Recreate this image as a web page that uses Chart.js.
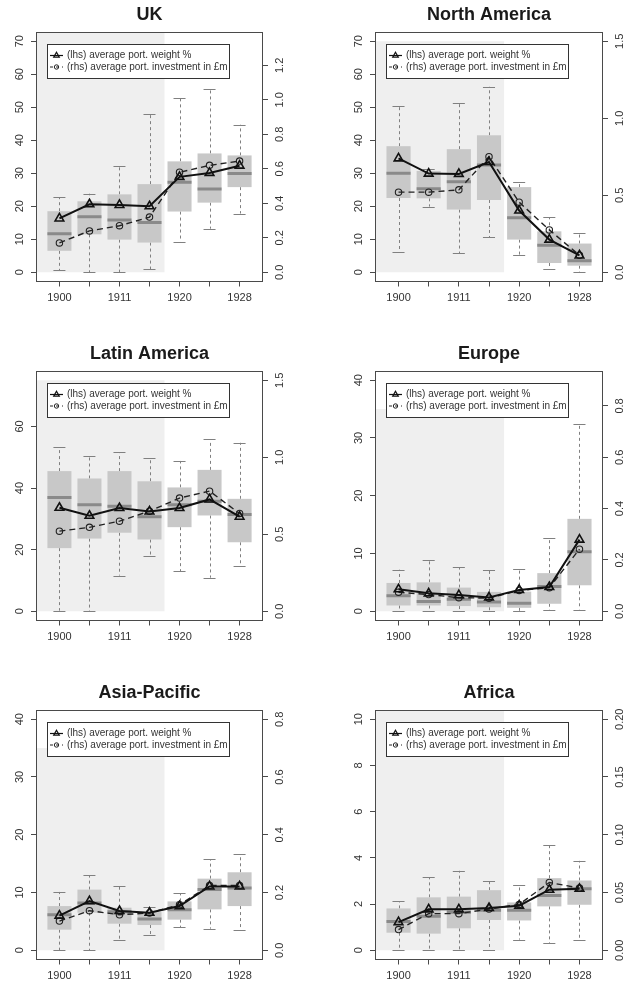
<!DOCTYPE html>
<html>
<head>
<meta charset="utf-8">
<script src="https://cdn.jsdelivr.net/npm/chart.js@4.4.1/dist/chart.umd.min.js"></script>
<style>
  html, body { margin: 0; padding: 0; background: #fff; }
  #page { position: relative; width: 623px; height: 982px; overflow: hidden; background: #fff; }
  #page canvas { position: absolute; display: block; }
</style>
</head>
<body>
<div id="page">
  <canvas id="uk" width="311" height="312" style="left:0;top:0"></canvas>
  <canvas id="na" width="312" height="312" style="left:311px;top:0"></canvas>
  <canvas id="latam" width="311" height="312" style="left:0;top:339px"></canvas>
  <canvas id="europe" width="312" height="312" style="left:311px;top:339px"></canvas>
  <canvas id="asia" width="311" height="312" style="left:0;top:678px"></canvas>
  <canvas id="africa" width="312" height="312" style="left:311px;top:678px"></canvas>
</div>
<script>
// ---- shared category axis ----
const xPositions = [1, 2, 3, 4, 5, 6, 7];
const tickYears = ['1900', '', '1911', '', '1920', '', '1928'];
const weightLabel = '(lhs) average port. weight %';
const investLabel = '(rhs) average port. investment in £m';

// ---- UK ----
const ukLow    = [0.6, 0.0, 0.0, 0.9, 9.3, 13.2, 17.8];
const ukQ1     = [6.5, 11.5, 9.9, 9.0, 18.4, 21.1, 25.8];
const ukMedian = [11.7, 16.8, 15.8, 15.1, 27.3, 25.2, 29.9];
const ukQ3     = [18.5, 21.5, 23.6, 26.7, 33.6, 36.0, 35.4];
const ukHigh   = [22.8, 23.8, 32.2, 47.9, 52.8, 55.4, 44.7];
const ukWeight = [16.3, 20.6, 20.4, 20.0, 28.9, 30.1, 32.3];
const ukInvest = [0.17, 0.24, 0.27, 0.32, 0.58, 0.62, 0.645];
const ukLeftTicks  = ['0', '10', '20', '30', '40', '50', '60', '70'];
const ukRightTicks = ['0.0', '0.2', '0.4', '0.6', '0.8', '1.0', '1.2'];

// ---- North America ----
const naLow    = [6.2, 19.9, 5.7, 10.6, 5.3, 1.0, 0.0];
const naQ1     = [22.5, 22.4, 19.0, 21.9, 9.9, 2.8, 2.0];
const naMedian = [30.0, 25.3, 27.4, 32.5, 16.5, 8.2, 3.5];
const naQ3     = [38.2, 30.7, 37.3, 41.5, 25.8, 12.4, 8.7];
const naHigh   = [50.5, 31.2, 51.2, 56.2, 27.4, 16.7, 11.8];
const naWeight = [34.5, 29.9, 29.8, 33.4, 18.7, 9.9, 5.1];
const naInvest = [0.52, 0.52, 0.535, 0.75, 0.455, 0.275, 0.11];
const naLeftTicks  = ['0', '10', '20', '30', '40', '50', '60', '70'];
const naRightTicks = ['0.0', '0.5', '1.0', '1.5'];

// ---- Latin America ----
const laLow    = [0.2, 0.0, 11.6, 18.0, 13.0, 10.9, 14.6];
const laQ1     = [20.5, 23.6, 25.5, 23.3, 27.3, 31.1, 22.4];
const laMedian = [36.9, 34.6, 34.1, 30.7, 34.6, 35.7, 31.4];
const laQ3     = [45.5, 43.1, 45.5, 42.2, 40.2, 45.9, 36.5];
const laHigh   = [53.3, 50.4, 51.7, 49.8, 48.8, 55.8, 54.7];
const laWeight = [33.6, 31.0, 33.5, 32.4, 33.5, 36.3, 30.7];
const laInvest = [0.52, 0.545, 0.585, 0.65, 0.735, 0.78, 0.635];
const laLeftTicks  = ['0', '20', '40', '60'];
const laRightTicks = ['0.0', '0.5', '1.0', '1.5'];

// ---- Europe ----
const euLow    = [0, 0, 0, 0, 0, 0.2, 0.3];
const euQ1     = [1.0, 1.0, 0.9, 0.7, 0.6, 1.3, 4.5];
const euMedian = [2.7, 1.7, 2.1, 1.6, 1.4, 4.3, 10.3];
const euQ3     = [4.9, 5.0, 4.1, 3.35, 3.4, 6.6, 16.0];
const euHigh   = [7.2, 8.8, 7.6, 7.1, 7.3, 12.7, 32.4];
const euWeight = [3.8, 3.1, 2.8, 2.4, 3.7, 4.2, 12.4];
const euInvest = [0.074, 0.065, 0.053, 0.051, 0.081, 0.092, 0.242];
const euLeftTicks  = ['0', '10', '20', '30', '40'];
const euRightTicks = ['0.0', '0.2', '0.4', '0.6', '0.8'];

// ---- Asia-Pacific ----
const apLow    = [0, 0, 1.73, 2.7, 3.97, 3.74, 3.57];
const apQ1     = [3.57, 6.5, 4.6, 4.37, 5.3, 7.08, 7.65];
const apMedian = [6.16, 8.2, 6.68, 5.4, 7.03, 10.5, 10.8];
const apQ3     = [7.65, 10.5, 7.37, 6.6, 8.46, 12.4, 13.5];
const apHigh   = [10.1, 12.95, 11.2, 7.48, 9.9, 15.8, 16.6];
const apWeight = [5.99, 8.5, 6.8, 6.5, 7.65, 11.05, 11.05];
const apInvest = [0.101, 0.137, 0.123, 0.129, 0.158, 0.224, 0.224];
const apLeftTicks  = ['0', '10', '20', '30', '40'];
const apRightTicks = ['0.0', '0.2', '0.4', '0.6', '0.8'];

// ---- Africa ----
const afLow    = [0, 0, 0, 0, 0.46, 0.3, 0.46];
const afQ1     = [0.76, 0.72, 0.95, 1.31, 1.29, 1.9, 1.97];
const afMedian = [1.25, 1.47, 1.65, 1.73, 1.73, 2.37, 2.66];
const afQ3     = [1.81, 2.29, 2.32, 2.6, 2.07, 3.12, 3.02];
const afHigh   = [2.13, 3.16, 3.44, 3.01, 2.82, 4.55, 3.87];
const afWeight = [1.22, 1.77, 1.77, 1.83, 1.93, 2.62, 2.66];
const afInvest = [0.0179, 0.0317, 0.0317, 0.0357, 0.0397, 0.0587, 0.0538];
const afLeftTicks  = ['0', '2', '4', '6', '8', '10'];
const afRightTicks = ['0.00', '0.05', '0.10', '0.15', '0.20'];

// axis limits (left, right) and the pre-war shaded band (x up to 4.5, y up to shadeTop)
const panels = [
  { canvas: 'uk', title: 'UK', col: 0, leftMax: 70, rightMax: 1.34, shadeTop: 75,
    low: ukLow, q1: ukQ1, median: ukMedian, q3: ukQ3, high: ukHigh, weight: ukWeight, invest: ukInvest,
    leftTicks: ukLeftTicks, rightTicks: ukRightTicks },
  { canvas: 'na', title: 'North America', col: 1, leftMax: 70, rightMax: 1.5, shadeTop: 70,
    low: naLow, q1: naQ1, median: naMedian, q3: naQ3, high: naHigh, weight: naWeight, invest: naInvest,
    leftTicks: naLeftTicks, rightTicks: naRightTicks },
  { canvas: 'latam', title: 'Latin America', col: 0, leftMax: 75, rightMax: 1.5, shadeTop: 75,
    low: laLow, q1: laQ1, median: laMedian, q3: laQ3, high: laHigh, weight: laWeight, invest: laInvest,
    leftTicks: laLeftTicks, rightTicks: laRightTicks },
  { canvas: 'europe', title: 'Europe', col: 1, leftMax: 40, rightMax: 0.9, shadeTop: 35,
    low: euLow, q1: euQ1, median: euMedian, q3: euQ3, high: euHigh, weight: euWeight, invest: euInvest,
    leftTicks: euLeftTicks, rightTicks: euRightTicks },
  { canvas: 'asia', title: 'Asia-Pacific', col: 0, leftMax: 40, rightMax: 0.8, shadeTop: 35,
    low: apLow, q1: apQ1, median: apMedian, q3: apQ3, high: apHigh, weight: apWeight, invest: apInvest,
    leftTicks: apLeftTicks, rightTicks: apRightTicks },
  { canvas: 'africa', title: 'Africa', col: 1, leftMax: 10, rightMax: 0.2, shadeTop: 35,
    low: afLow, q1: afQ1, median: afMedian, q3: afQ3, high: afHigh, weight: afWeight, invest: afInvest,
    leftTicks: afLeftTicks, rightTicks: afRightTicks }
];

const FONT = '"Liberation Sans", Arial, Helvetica, sans-serif';
Chart.defaults.font.family = FONT;
Chart.defaults.color = '#333';

const BOX_FILL = '#c8c8c8';
const MEDIAN = '#8a8a8a';
const WHISKER = '#808080';
const SHADE = '#efefef';
const FRAME = '#4a4a4a';

function panelPlugin(p) {
  return {
    id: 'panelDecor',
    beforeDatasetsDraw(chart) {
      const { ctx, chartArea: a, scales } = chart;
      const x = scales.x, y = scales.y;
      ctx.save();
      ctx.beginPath();
      ctx.rect(a.left, a.top, a.right - a.left, a.bottom - a.top);
      ctx.clip();
      // shaded band
      const sx0 = x.getPixelForValue(0), sx1 = x.getPixelForValue(4.5);
      const sy0 = y.getPixelForValue(0), sy1 = y.getPixelForValue(p.shadeTop);
      ctx.fillStyle = SHADE;
      ctx.fillRect(sx0, sy1, sx1 - sx0, sy0 - sy1);
      // box plots
      const unit = x.getPixelForValue(2) - x.getPixelForValue(1);
      const halfBox = 0.4 * unit, halfStaple = 0.2 * unit;
      xPositions.forEach((pos, i) => {
        const cx = x.getPixelForValue(pos);
        const yLow = y.getPixelForValue(p.low[i]);
        const yQ1 = y.getPixelForValue(p.q1[i]);
        const yMed = y.getPixelForValue(p.median[i]);
        const yQ3 = y.getPixelForValue(p.q3[i]);
        const yHigh = y.getPixelForValue(p.high[i]);
        // whiskers
        ctx.strokeStyle = WHISKER;
        ctx.lineWidth = 1;
        ctx.setLineDash([3, 3]);
        ctx.beginPath();
        ctx.moveTo(Math.round(cx) + 0.5, yQ3); ctx.lineTo(Math.round(cx) + 0.5, yHigh);
        ctx.moveTo(Math.round(cx) + 0.5, yQ1); ctx.lineTo(Math.round(cx) + 0.5, yLow);
        ctx.stroke();
        ctx.setLineDash([]);
        // staples
        ctx.beginPath();
        ctx.moveTo(cx - halfStaple, Math.round(yHigh) + 0.5); ctx.lineTo(cx + halfStaple, Math.round(yHigh) + 0.5);
        ctx.moveTo(cx - halfStaple, Math.round(yLow) + 0.5); ctx.lineTo(cx + halfStaple, Math.round(yLow) + 0.5);
        ctx.stroke();
        // box
        ctx.fillStyle = BOX_FILL;
        ctx.fillRect(cx - halfBox, yQ3, 2 * halfBox, yQ1 - yQ3);
        // median
        ctx.strokeStyle = MEDIAN;
        ctx.lineWidth = 3;
        ctx.beginPath();
        ctx.moveTo(cx - halfBox, yMed); ctx.lineTo(cx + halfBox, yMed);
        ctx.stroke();
      });
      ctx.restore();
    },
    afterDatasetsDraw(chart) {
      const { ctx, chartArea: a, scales } = chart;
      ctx.save();
      // plot frame
      ctx.strokeStyle = FRAME;
      ctx.lineWidth = 1;
      ctx.strokeRect(Math.round(a.left) + 0.5, Math.round(a.top) + 0.5,
                     Math.round(a.right - a.left) - 1, Math.round(a.bottom - a.top) - 1);

      // legend inside the plot
      const lx = a.left + 11, ly = a.top + 12, lw = 182, lh = 34;
      ctx.fillStyle = '#fff';
      ctx.fillRect(lx, ly, lw, lh);
      ctx.strokeStyle = '#333';
      ctx.strokeRect(Math.round(lx) + 0.5, Math.round(ly) + 0.5, lw, lh);
      const rows = [ly + 11.5, ly + 23];
      chart.data.datasets.forEach((ds, k) => {
        const ry = rows[k];
        ctx.strokeStyle = ds.borderColor;
        ctx.lineWidth = k === 0 ? 1.2 : 1;
        ctx.setLineDash(k === 0 ? [] : [3, 3]);
        ctx.beginPath();
        ctx.moveTo(lx + 3, ry); ctx.lineTo(lx + 16, ry);
        ctx.stroke();
        ctx.setLineDash([]);
        ctx.beginPath();
        if (k === 0) {
          const r = 3.2;
          ctx.moveTo(lx + 9.5, ry - r);
          ctx.lineTo(lx + 9.5 + r * 0.87, ry + r * 0.5);
          ctx.lineTo(lx + 9.5 - r * 0.87, ry + r * 0.5);
          ctx.closePath();
        } else {
          ctx.arc(lx + 9.5, ry, 2.2, 0, Math.PI * 2);
        }
        ctx.stroke();
        ctx.fillStyle = '#333';
        ctx.font = '10px ' + FONT;
        ctx.textAlign = 'left';
        ctx.textBaseline = 'middle';
        ctx.fillText(ds.label, lx + 20, ry);
      });

      // rotated y tick labels, read along the axis
      ctx.font = '11px ' + FONT;
      ctx.fillStyle = '#333';
      ctx.textAlign = 'center';
      ctx.textBaseline = 'middle';
      const drawAxisLabels = (scale, labels, xPos) => {
        labels.forEach(t => {
          const py = scale.getPixelForValue(Number(t));
          ctx.save();
          ctx.translate(xPos, py);
          ctx.rotate(-Math.PI / 2);
          ctx.fillText(t, 0, 0);
          ctx.restore();
        });
      };
      drawAxisLabels(scales.y, p.leftTicks, a.left - 16);
      drawAxisLabels(scales.y1, p.rightTicks, a.right + 17);
      ctx.restore();
    }
  };
}

function buildChart(p) {
  const leftW = p.col === 0 ? 36 : 64;
  const rightW = p.col === 0 ? 48 : 20;
  const tickGrid = { drawOnChartArea: false, drawTicks: true, tickLength: 5, color: FRAME, lineWidth: 1 };
  return new Chart(document.getElementById(p.canvas), {
    type: 'line',
    data: {
      datasets: [
        {
          label: weightLabel,
          data: xPositions.map((x, i) => ({ x, y: p.weight[i] })),
          yAxisID: 'y',
          borderColor: '#111',
          borderWidth: 2,
          pointStyle: 'triangle',
          pointRadius: 5,
          pointBorderWidth: 1.6,
          pointBorderColor: '#111',
          pointBackgroundColor: 'rgba(0,0,0,0)',
          tension: 0
        },
        {
          label: investLabel,
          data: xPositions.map((x, i) => ({ x, y: p.invest[i] })),
          yAxisID: 'y1',
          borderColor: '#222',
          borderWidth: 1.4,
          borderDash: [6, 4],
          pointStyle: 'circle',
          pointRadius: 3.2,
          pointBorderWidth: 1.1,
          pointBorderColor: '#222',
          pointBackgroundColor: 'rgba(0,0,0,0)',
          tension: 0
        }
      ]
    },
    options: {
      responsive: false,
      animation: false,
      events: [],
      layout: { padding: 0 },
      plugins: {
        legend: { display: false },
        tooltip: { enabled: false },
        title: {
          display: true,
          text: p.title,
          fullSize: false,
          color: '#1a1a1a',
          font: { size: 18, weight: 'bold', lineHeight: 1, family: FONT },
          padding: { top: 6, bottom: 8 }
        }
      },
      scales: {
        x: {
          type: 'linear',
          min: 0.22,
          max: 7.78,
          afterBuildTicks: s => { s.ticks = xPositions.map(v => ({ value: v })); },
          afterFit: s => { s.height = 30.5; },
          ticks: {
            autoSkip: false, maxRotation: 0, minRotation: 0, padding: 5,
            color: '#333', font: { size: 11 },
            callback: (v, i) => tickYears[i] ?? ''
          },
          grid: tickGrid,
          border: { display: false }
        },
        y: {
          type: 'linear',
          position: 'left',
          min: -0.04 * p.leftMax,
          max: 1.04 * p.leftMax,
          afterBuildTicks: s => { s.ticks = p.leftTicks.map(t => ({ value: Number(t) })); },
          afterFit: s => { s.width = leftW; },
          ticks: { display: false },
          grid: tickGrid,
          border: { display: false }
        },
        y1: {
          type: 'linear',
          position: 'right',
          min: -0.04 * p.rightMax,
          max: 1.04 * p.rightMax,
          afterBuildTicks: s => { s.ticks = p.rightTicks.map(t => ({ value: Number(t) })); },
          afterFit: s => { s.width = rightW; },
          ticks: { display: false },
          grid: tickGrid,
          border: { display: false }
        }
      }
    },
    plugins: [panelPlugin(p)]
  });
}

panels.forEach(buildChart);
</script>
</body>
</html>
